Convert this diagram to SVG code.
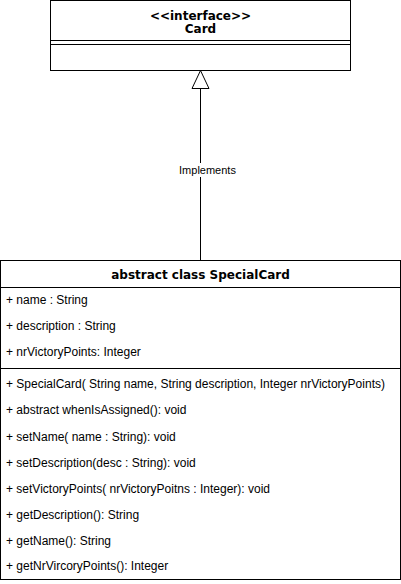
<svg xmlns="http://www.w3.org/2000/svg" width="401" height="584" viewBox="0 0 401 584">
<style>
.box{fill:#ffffff;stroke:#000000;stroke-width:1}
.ln{stroke:#000000;stroke-width:1;fill:none}
.ttl{font-family:"DejaVu Sans",Verdana,sans-serif;font-weight:bold;font-size:12px;fill:#000000;text-anchor:middle}
.txt{font-family:"Liberation Sans",Arial,sans-serif;font-size:12px;fill:#000000}
.lbl{font-family:"Liberation Sans",Arial,sans-serif;font-size:11px;fill:#000000;text-anchor:middle}
</style>
<rect width="401" height="584" fill="#ffffff"/>
<g id="connectors">
<line class="ln" x1="200.5" y1="88.5" x2="200.5" y2="260.5"/>
<polygon class="box" points="200.5,70.5 192,88.5 209,88.5"/>
<rect x="178" y="163" width="59" height="14" fill="#ffffff"/>
<text class="lbl" x="207.5" y="174">Implements</text>
</g>
<g id="node-card">
<rect class="box" x="50.5" y="0.5" width="300" height="70"/>
<line class="ln" x1="50.5" y1="40.5" x2="350.5" y2="40.5"/>
<line class="ln" x1="50.5" y1="44.5" x2="350.5" y2="44.5"/>
<text class="ttl" x="200.5" y="19.5">&lt;&lt;interface&gt;&gt;</text>
<text class="ttl" x="200.5" y="32.5">Card</text>
</g>
<g id="node-specialcard">
<rect class="box" x="0.5" y="260.5" width="400" height="319"/>
<line class="ln" x1="0.5" y1="287.5" x2="400.5" y2="287.5"/>
<line class="ln" x1="0.5" y1="368.5" x2="400.5" y2="368.5"/>
<text class="ttl" x="200.5" y="278.5">abstract class SpecialCard</text>
<text class="txt" x="6" y="304">+ name : String</text>
<text class="txt" x="6" y="330">+ description : String</text>
<text class="txt" x="6" y="356">+ nrVictoryPoints: Integer</text>
<text class="txt" x="6" y="388">+ SpecialCard( String name, String description, Integer nrVictoryPoints)</text>
<text class="txt" x="6" y="414">+ abstract whenIsAssigned(): void</text>
<text class="txt" x="6" y="440.5">+ setName( name : String): void</text>
<text class="txt" x="6" y="466.5">+ setDescription(desc : String): void</text>
<text class="txt" x="6" y="492.5">+ setVictoryPoints( nrVictoryPoitns : Integer): void</text>
<text class="txt" x="6" y="518.5">+ getDescription(): String</text>
<text class="txt" x="6" y="544.5">+ getName(): String</text>
<text class="txt" x="6" y="570">+ getNrVircoryPoints(): Integer</text>
</g>
</svg>
